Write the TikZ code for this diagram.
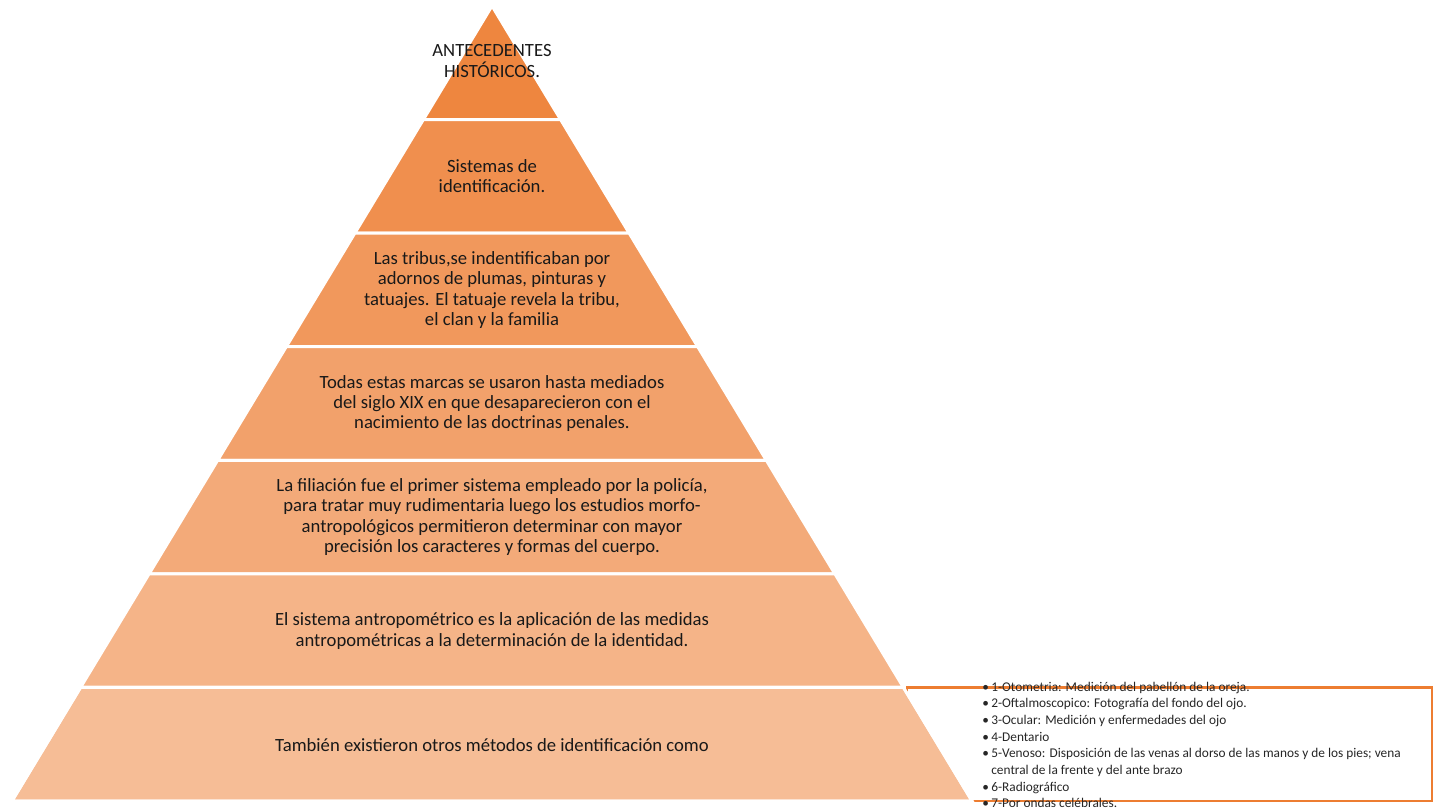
\documentclass[tikz,border=0pt]{standalone}
\usepackage{fontspec}
\setmainfont{Carlito}
\usepackage{tikz}
\usetikzlibrary{positioning}

\definecolor{naranja}{HTML}{ED7D31}
\tikzset{
  capa/.style={draw=white, line width=2.2pt, line join=miter},
  texto/.style={align=center, text=black!90, font=\fontsize{14}{15.3}\selectfont},
  vineta/.style={anchor=west, inner sep=0pt, text=black!85, font=\fontsize{10}{12.5}\selectfont}
}
\newcommand{\punto}{\makebox[6.8pt][l]{\textbullet}}

\begin{document}
\begin{tikzpicture}[x=0.75pt,y=-0.75pt]
		\useasboundingbox (0,0) rectangle (1439,809);

		% Recuadro de la lista (detras de la piramide)
		\draw[naranja, line width=1.9pt] (907,687.5) rectangle (1432,801);

		% Capas de la piramide
		\fill[capa, fill=naranja!93] (492,6) -- (560.6,119.6) -- (423.4,119.6) -- cycle;
		\fill[capa, fill=naranja!86] (423.4,119.6) -- (560.6,119.6) -- (629.1,233.1) -- (354.9,233.1) -- cycle;
		\fill[capa, fill=naranja!79] (354.9,233.1) -- (629.1,233.1) -- (697.7,346.7) -- (286.3,346.7) -- cycle;
		\fill[capa, fill=naranja!72] (286.3,346.7) -- (697.7,346.7) -- (766.3,460.3) -- (217.7,460.3) -- cycle;
		\fill[capa, fill=naranja!65] (217.7,460.3) -- (766.3,460.3) -- (834.9,573.9) -- (149.1,573.9) -- cycle;
		\fill[capa, fill=naranja!58] (149.1,573.9) -- (834.9,573.9) -- (903.4,687.4) -- (80.6,687.4) -- cycle;
		\fill[capa, fill=naranja!51] (80.6,687.4) -- (903.4,687.4) -- (972,801) -- (12,801) -- cycle;
		\draw[capa] (80.6,687.4) -- (903.4,687.4) -- (972,801) -- (12,801) -- cycle;

		% Textos de cada capa
		\node[texto] (titulo) at (492,61) {ANTECEDENTES\\HISTÓRICOS.};
		\node[texto] (sistemas) at (492,176) {Sistemas de\\identificación.};
		\node[texto] (tribus) at (492,290) {Las tribus,se indentificaban por\\adornos de plumas, pinturas y\\tatuajes. El tatuaje revela la tribu,\\el clan y la familia};
		\node[texto] (marcas) at (492,403.5) {Todas estas marcas se usaron hasta mediados\\del siglo XIX en que desaparecieron con el\\nacimiento de las doctrinas penales.};
		\node[texto] (filiacion) at (492,517) {La filiación fue el primer sistema empleado por la policía,\\para tratar muy rudimentaria luego los estudios morfo-\\antropológicos permitieron determinar con mayor\\precisión los caracteres y formas del cuerpo.};
		\node[texto] (antropo) at (492,631) {El sistema antropométrico es la aplicación de las medidas\\antropométricas a la determinación de la identidad.};
		\node[texto] (otros) at (492,745) {También existieron otros métodos de identificación como};

		% Lista de metodos
		\node[vineta, align=left] (lista) at (982,745) {\punto 1-Otometria: Medición del pabellón de la oreja.\\
			\punto 2-Oftalmoscopico: Fotografía del fondo del ojo.\\
			\punto 3-Ocular: Medición y enfermedades del ojo\\
			\punto 4-Dentario\\
			\punto 5-Venoso: Disposición de las venas al dorso de las manos y de los pies; vena\\
			\hspace*{6.8pt}central de la frente y del ante brazo\\
			\punto 6-Radiográfico\\
			\punto 7-Por ondas celébrales.};

	\end{tikzpicture}
\end{document}
